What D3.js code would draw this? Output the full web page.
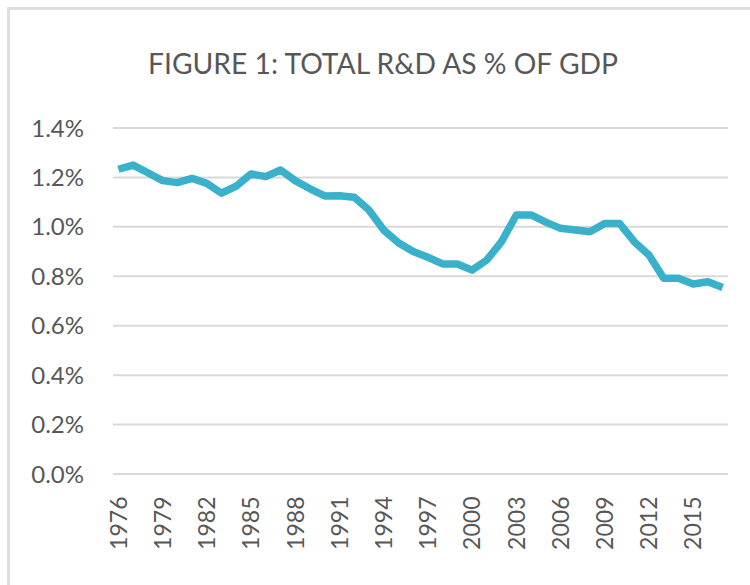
<!DOCTYPE html>
<html>
<head>
<meta charset="utf-8">
<script src="https://cdn.jsdelivr.net/npm/d3@7"></script>
<style>
	body { margin: 0; background: #fff; }
	svg text { font-family: Lato, "Open Sans", sans-serif; fill: #575757; }
</style>
</head>
<body>
<svg id="chart" width="750" height="585"></svg>
<script>
// data
const years = d3.range(1976, 2018);
const rdShare = [
	1.231, 1.248, 1.217, 1.185, 1.177, 1.194, 1.174, 1.134, 1.163, 1.212,
	1.201, 1.228, 1.185, 1.152, 1.123, 1.124, 1.118, 1.066, 0.985, 0.934,
	0.898, 0.875, 0.848, 0.848, 0.823, 0.864, 0.938, 1.046, 1.046, 1.017,
	0.992, 0.985, 0.978, 1.012, 1.012, 0.938, 0.884, 0.790, 0.790, 0.767,
	0.776, 0.753
];
const yTicks = [0, 0.2, 0.4, 0.6, 0.8, 1.0, 1.2, 1.4];
const yearLabels = d3.range(1976, 2016, 3);

const GRID_LEFT = 113;
const GRID_RIGHT = 728;
const PLOT_TOP = 127.5;
const PLOT_BOTTOM = 473.5;

let svg = d3.select("svg#chart");

// frame
svg.append("rect")
	.attr("x", 8.5)
	.attr("y", 8.5)
	.attr("width", 800)
	.attr("height", 600)
	.attr("fill", "none")
	.attr("stroke", "#dedede")
	.attr("stroke-width", 3)
	;

svg.append("text")
	.text("FIGURE 1: TOTAL R&D AS % OF GDP")
	.attr("x", 148)
	.attr("y", 74)
	.attr("font-size", 29)
	.attr("textLength", 470)
	.attr("lengthAdjust", "spacingAndGlyphs")
	;

let x = d3.scaleBand()
	.domain(years)
	.range([111, 730])
	;

let y = d3.scaleLinear()
	.domain([0, 1.4])
	.range([PLOT_BOTTOM, PLOT_TOP])
	;

// gridlines + y labels
let yAxis = svg.append("g")
	.attr("transform", "translate(" + GRID_LEFT + ",0)")
	.call(d3.axisLeft(y)
		.tickValues(yTicks)
		.tickSize(-(GRID_RIGHT - GRID_LEFT))
		.tickPadding(29)
		.tickFormat(d => d.toFixed(1) + "%"))
	;
yAxis.select(".domain").remove();
yAxis.selectAll(".tick line")
	.attr("stroke", "#d9d9d9")
	.attr("stroke-width", 2)
	;
yAxis.selectAll(".tick text")
	.attr("font-size", 24)
	.attr("dy", "0.36em")
	.attr("fill", "#575757")
	;

// x labels, rotated
let xAxis = svg.append("g")
	.attr("transform", "translate(0," + PLOT_BOTTOM + ")")
	.call(d3.axisBottom(x)
		.tickValues(yearLabels)
		.tickSize(0)
		.tickPadding(0))
	;
xAxis.select(".domain").remove();
xAxis.selectAll(".tick text")
	.attr("font-size", 23)
	.attr("fill", "#575757")
	.attr("transform", "rotate(-90)")
	.attr("text-anchor", "end")
	.attr("x", -23)
	.attr("y", 0)
	.attr("dy", "0.36em")
	;

// the line
let line = d3.line()
	.x((d, i) => x(years[i]) + x.bandwidth() / 2)
	.y(d => y(d))
	;

svg.append("path")
	.datum(rdShare)
	.attr("d", line)
	.attr("fill", "none")
	.attr("stroke", "#3ab1ca")
	.attr("stroke-width", 7.5)
	.attr("stroke-linejoin", "round")
	;
</script>
</body>
</html>
